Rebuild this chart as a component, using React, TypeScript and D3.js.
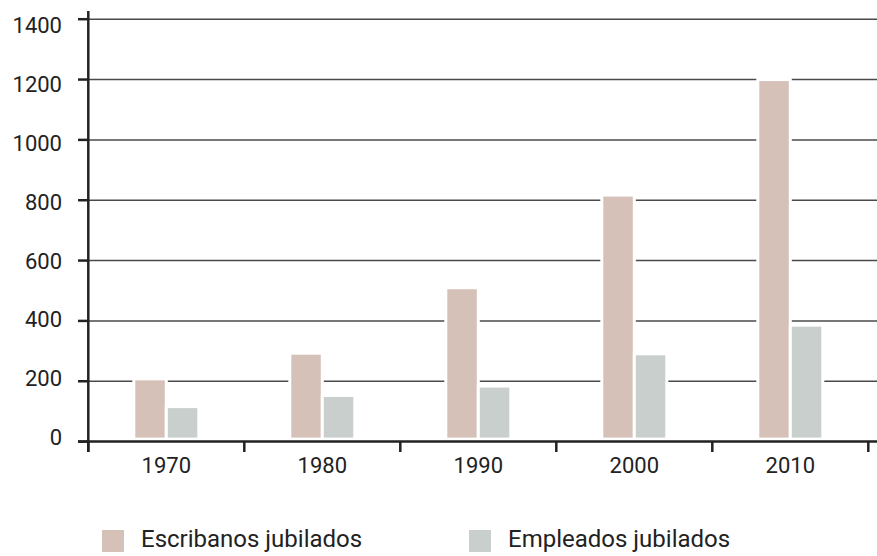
import React from 'react';
import * as d3 from 'd3';

const years = ['1970', '1980', '1990', '2000', '2010'];
const seriesNames = ['Escribanos jubilados', 'Empleados jubilados'];
const escribanos = [203, 288, 505, 812, 1195];
const empleados = [111, 148, 179, 286, 381];
const yTicks = [0, 200, 400, 600, 800, 1000, 1200, 1400];
const colors = ['#d6c1b9', '#c8cfcc'];

const W = 877;
const H = 556;
const FONT = 'Roboto, "Liberation Sans", sans-serif';

export default function App() {
  const x = d3.scaleBand<string>().domain(years).range([88.3, 868.3]);
  const y = d3.scaleLinear().domain([0, 1400]).range([441.6, 19.2]);
  // tick labels in the original sit on a slightly tighter spacing than the gridlines
  const yLabel = d3.scaleLinear().domain([0, 1400]).range([445, 33.3]);
  const values = [escribanos, empleados];
  const barW = 32.5;

  return (
    <svg width={W} height={H} style={{ position: 'absolute', left: 0, top: 0, background: '#fff' }}>
      {/* gridlines */}
      {yTicks.filter(t => t > 0).map(t => (
        <line key={'g' + t} x1={88} x2={W} y1={y(t)} y2={y(t)} stroke="#4a4a4a" strokeWidth={1.5} />
      ))}
      {/* bars */}
      {years.map((yr, i) => {
        const c = (x(yr) as number) + x.bandwidth() / 2;
        const inner = d3.scaleBand<number>().domain([0, 1]).range([c - barW, c + barW]);
        return values.map((vals, s) => (
          <rect
            key={yr + s}
            x={inner(s)}
            width={inner.bandwidth()}
            y={y(vals[i]) - 1.5}
            height={y(0) - 2.5 - (y(vals[i]) - 1.5)}
            fill={colors[s]}
            stroke="#fff"
            strokeWidth={3}
          />
        ));
      })}
      {/* x axis */}
      <line x1={78} x2={W} y1={y(0)} y2={y(0)} stroke="#222" strokeWidth={2.5} />
      {x.domain().map(d => (
        <line key={'xt' + d} x1={x(d)} x2={x(d)} y1={y(0)} y2={452} stroke="#222" strokeWidth={2.5} />
      ))}
      <line x1={868.3} x2={868.3} y1={y(0)} y2={452} stroke="#222" strokeWidth={2.5} />
      {years.map(d => (
        <text key={'xl' + d} x={(x(d) as number) + x.bandwidth() / 2} y={473} textAnchor="middle"
          fontFamily={FONT} fontSize={22} fill="#222">{d}</text>
      ))}
      {/* y axis */}
      <line x1={88.3} x2={88.3} y1={11} y2={452} stroke="#222" strokeWidth={2.5} />
      {yTicks.map(t => (
        <g key={'yt' + t}>
          <line x1={78} x2={88} y1={y(t)} y2={y(t)} stroke="#222" strokeWidth={2.5} />
          <text x={62} y={yLabel(t)} textAnchor="end" fontFamily={FONT} fontSize={22} fill="#222">{t}</text>
        </g>
      ))}
      {/* legend */}
      {seriesNames.map((name, s) => {
        const lx = [102, 469][s];
        return (
          <g key={name}>
            <rect x={lx} y={530} width={22} height={22} fill={colors[s]} />
            <text x={lx + 39} y={547} fontFamily={FONT} fontSize={24} fill="#222">{name}</text>
          </g>
        );
      })}
    </svg>
  );
}
